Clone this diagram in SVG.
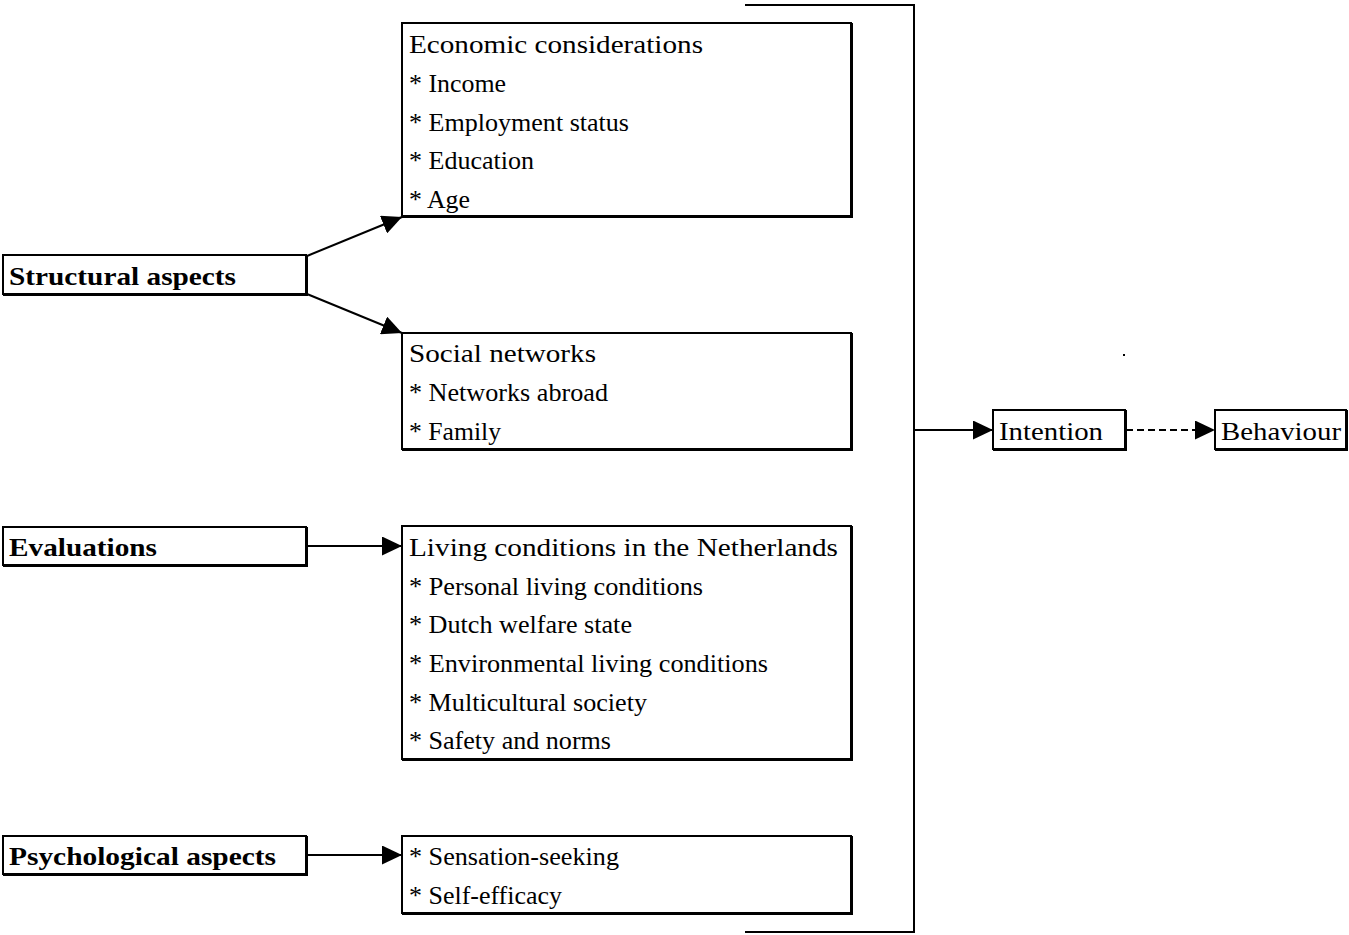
<svg xmlns="http://www.w3.org/2000/svg" width="1349" height="935" viewBox="0 0 1349 935">
<style>
.box{fill:#fff;stroke:#000;stroke-width:2}
.sh{fill:none;stroke:#000;stroke-width:3}
.t{font-family:"Liberation Serif","Times New Roman",serif;font-size:26px;fill:#000}
.b{font-family:"Liberation Serif","Times New Roman",serif;font-size:26px;font-weight:bold;fill:#000}
.c{fill:none;stroke:#000;stroke-width:2}
</style>
<defs>
<marker id="ah" markerWidth="20" markerHeight="19" refX="20" refY="9.5" orient="auto" markerUnits="userSpaceOnUse">
<path d="M0,0 L20,9.5 L0,19 Z" fill="#000"/>
</marker>
</defs>
<rect width="1349" height="935" fill="#fff"/>
<g id="connectors">
<path class="c" d="M745,5 H914 V932 H745"/>
<line class="c" x1="307" y1="256" x2="402" y2="217" marker-end="url(#ah)"/>
<line class="c" x1="307" y1="294" x2="402" y2="333" marker-end="url(#ah)"/>
<line class="c" x1="307" y1="546" x2="402" y2="546" marker-end="url(#ah)"/>
<line class="c" x1="307" y1="855" x2="402" y2="855" marker-end="url(#ah)"/>
<line class="c" x1="914" y1="430" x2="993" y2="430" marker-end="url(#ah)"/>
<line class="c" x1="1126" y1="430" x2="1215" y2="430" stroke-dasharray="7,4" marker-end="url(#ah)"/>
</g>
<g id="economic">
<rect class="box" x="402" y="23" width="449" height="193"/>
<path class="sh" d="M402,216.5 H851.5 V23"/>
<text class="t" x="409" y="53" textLength="294" lengthAdjust="spacingAndGlyphs">Economic considerations</text>
<text class="t" x="409" y="92" textLength="97" lengthAdjust="spacingAndGlyphs">* Income</text>
<text class="t" x="409" y="131" textLength="220" lengthAdjust="spacingAndGlyphs">* Employment status</text>
<text class="t" x="409" y="169" textLength="125" lengthAdjust="spacingAndGlyphs">* Education</text>
<text class="t" x="409" y="208" textLength="61" lengthAdjust="spacingAndGlyphs">* Age</text>
</g>
<g id="structural">
<rect class="box" x="3" y="255" width="303" height="39"/>
<path class="sh" d="M3,294.5 H306.5 V255"/>
<text class="b" x="9" y="285" textLength="227" lengthAdjust="spacingAndGlyphs">Structural aspects</text>
</g>
<g id="social">
<rect class="box" x="402" y="333" width="449" height="116"/>
<path class="sh" d="M402,449.5 H851.5 V333"/>
<text class="t" x="409" y="362" textLength="187" lengthAdjust="spacingAndGlyphs">Social networks</text>
<text class="t" x="409" y="401" textLength="199" lengthAdjust="spacingAndGlyphs">* Networks abroad</text>
<text class="t" x="409" y="440" textLength="92" lengthAdjust="spacingAndGlyphs">* Family</text>
</g>
<g id="evaluations">
<rect class="box" x="3" y="527" width="303" height="38"/>
<path class="sh" d="M3,565.5 H306.5 V527"/>
<text class="b" x="9" y="556" textLength="148" lengthAdjust="spacingAndGlyphs">Evaluations</text>
</g>
<g id="living">
<rect class="box" x="402" y="526" width="449" height="233"/>
<path class="sh" d="M402,759.5 H851.5 V526"/>
<text class="t" x="409" y="556" textLength="429" lengthAdjust="spacingAndGlyphs">Living conditions in the Netherlands</text>
<text class="t" x="409" y="595" textLength="294" lengthAdjust="spacingAndGlyphs">* Personal living conditions</text>
<text class="t" x="409" y="633" textLength="223" lengthAdjust="spacingAndGlyphs">* Dutch welfare state</text>
<text class="t" x="409" y="672" textLength="359" lengthAdjust="spacingAndGlyphs">* Environmental living conditions</text>
<text class="t" x="409" y="711" textLength="238" lengthAdjust="spacingAndGlyphs">* Multicultural society</text>
<text class="t" x="409" y="749" textLength="202" lengthAdjust="spacingAndGlyphs">* Safety and norms</text>
</g>
<g id="psychological">
<rect class="box" x="3" y="836" width="303" height="38"/>
<path class="sh" d="M3,874.5 H306.5 V836"/>
<text class="b" x="9" y="865" textLength="267" lengthAdjust="spacingAndGlyphs">Psychological aspects</text>
</g>
<g id="psych-items">
<rect class="box" x="402" y="836" width="449" height="77"/>
<path class="sh" d="M402,913.5 H851.5 V836"/>
<text class="t" x="409" y="865" textLength="210" lengthAdjust="spacingAndGlyphs">* Sensation-seeking</text>
<text class="t" x="409" y="904" textLength="153" lengthAdjust="spacingAndGlyphs">* Self-efficacy</text>
</g>
<g id="intention">
<rect class="box" x="993" y="410" width="132" height="39"/>
<path class="sh" d="M993,449.5 H1125.5 V410"/>
<text class="t" x="999" y="440" textLength="104" lengthAdjust="spacingAndGlyphs">Intention</text>
</g>
<g id="behaviour">
<rect class="box" x="1215" y="410" width="131" height="39"/>
<path class="sh" d="M1215,449.5 H1346.5 V410"/>
<text class="t" x="1221" y="440" textLength="120" lengthAdjust="spacingAndGlyphs">Behaviour</text>
</g>
<rect x="1123" y="354" width="2" height="2" fill="#000"/>
</svg>
